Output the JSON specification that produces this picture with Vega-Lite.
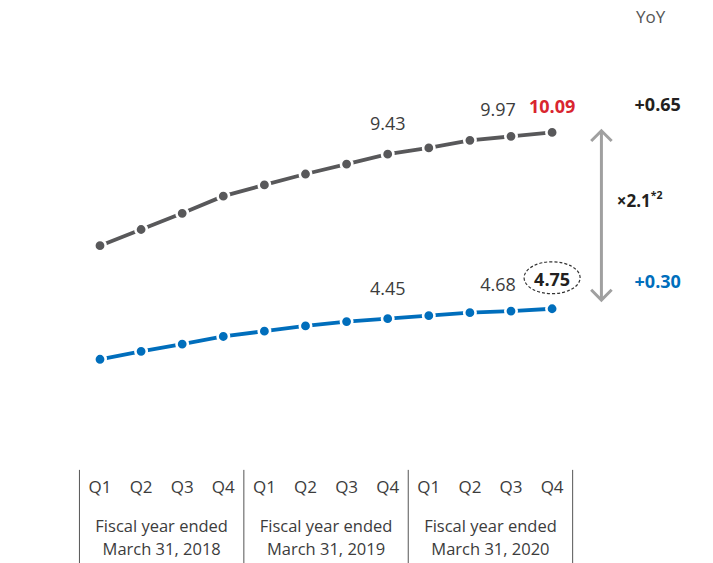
{
  "$schema": "https://vega.github.io/schema/vega-lite/v6.json",
  "width": 713,
  "height": 563,
  "autosize": "none",
  "padding": 0,
  "background": "white",
  "config": {"view": {"stroke": null}, "font": "Open Sans"},
  "datasets": {
    "series": [
      {"i": 0, "quarter": "Q1", "fy": "2018", "series": "total", "value": 6.66},
      {"i": 1, "quarter": "Q2", "fy": "2018", "series": "total", "value": 7.15},
      {"i": 2, "quarter": "Q3", "fy": "2018", "series": "total", "value": 7.64},
      {"i": 3, "quarter": "Q4", "fy": "2018", "series": "total", "value": 8.16},
      {"i": 4, "quarter": "Q1", "fy": "2019", "series": "total", "value": 8.50},
      {"i": 5, "quarter": "Q2", "fy": "2019", "series": "total", "value": 8.83},
      {"i": 6, "quarter": "Q3", "fy": "2019", "series": "total", "value": 9.13},
      {"i": 7, "quarter": "Q4", "fy": "2019", "series": "total", "value": 9.43},
      {"i": 8, "quarter": "Q1", "fy": "2020", "series": "total", "value": 9.62},
      {"i": 9, "quarter": "Q2", "fy": "2020", "series": "total", "value": 9.85},
      {"i": 10, "quarter": "Q3", "fy": "2020", "series": "total", "value": 9.97},
      {"i": 11, "quarter": "Q4", "fy": "2020", "series": "total", "value": 10.09},
      {"i": 0, "quarter": "Q1", "fy": "2018", "series": "sub", "value": 3.22},
      {"i": 1, "quarter": "Q2", "fy": "2018", "series": "sub", "value": 3.46},
      {"i": 2, "quarter": "Q3", "fy": "2018", "series": "sub", "value": 3.68},
      {"i": 3, "quarter": "Q4", "fy": "2018", "series": "sub", "value": 3.91},
      {"i": 4, "quarter": "Q1", "fy": "2019", "series": "sub", "value": 4.07},
      {"i": 5, "quarter": "Q2", "fy": "2019", "series": "sub", "value": 4.23},
      {"i": 6, "quarter": "Q3", "fy": "2019", "series": "sub", "value": 4.36},
      {"i": 7, "quarter": "Q4", "fy": "2019", "series": "sub", "value": 4.45},
      {"i": 8, "quarter": "Q1", "fy": "2020", "series": "sub", "value": 4.54},
      {"i": 9, "quarter": "Q2", "fy": "2020", "series": "sub", "value": 4.63},
      {"i": 10, "quarter": "Q3", "fy": "2020", "series": "sub", "value": 4.68},
      {"i": 11, "quarter": "Q4", "fy": "2020", "series": "sub", "value": 4.75}
    ],
    "quarters": [
      {"i": 0, "quarter": "Q1"}, {"i": 1, "quarter": "Q2"}, {"i": 2, "quarter": "Q3"}, {"i": 3, "quarter": "Q4"},
      {"i": 4, "quarter": "Q1"}, {"i": 5, "quarter": "Q2"}, {"i": 6, "quarter": "Q3"}, {"i": 7, "quarter": "Q4"},
      {"i": 8, "quarter": "Q1"}, {"i": 9, "quarter": "Q2"}, {"i": 10, "quarter": "Q3"}, {"i": 11, "quarter": "Q4"}
    ],
    "years": [
      {"center": 1.5, "label": "Fiscal year ended\nMarch 31, 2018"},
      {"center": 5.5, "label": "Fiscal year ended\nMarch 31, 2019"},
      {"center": 9.5, "label": "Fiscal year ended\nMarch 31, 2020"}
    ],
    "separators": [{"b": -0.5}, {"b": 3.5}, {"b": 7.5}, {"b": 11.5}],
    "summary": [{"total": 10.09, "sub": 4.75, "yoyTotal": "+0.65", "yoySub": "+0.30", "ratio": "×2.1", "note": "*2"}]
  },
  "layer": [
    {
      "data": {"name": "series"},
      "mark": {"type": "line", "strokeWidth": 3.8},
      "encoding": {
        "x": {"field": "i", "type": "quantitative", "scale": {"domain": [-2.433, 14.915], "nice": false, "zero": false}, "axis": null},
        "y": {"field": "value", "type": "quantitative", "scale": {"domain": [-2.95, 14.1], "nice": false, "zero": false}, "axis": null},
        "detail": {"field": "series"},
        "color": {"field": "series", "type": "nominal", "scale": {"domain": ["total", "sub"], "range": ["#58585a", "#006ebc"]}, "legend": null}
      }
    },
    {
      "data": {"name": "series"},
      "mark": {"type": "point", "filled": true, "size": 130, "stroke": "white", "strokeWidth": 2.6, "opacity": 1},
      "encoding": {
        "x": {"field": "i", "type": "quantitative"},
        "y": {"field": "value", "type": "quantitative"},
        "fill": {"field": "series", "type": "nominal", "scale": {"domain": ["total", "sub"], "range": ["#58585a", "#006ebc"]}, "legend": null}
      }
    },
    {
      "data": {"name": "series"},
      "transform": [{"filter": "datum.i == 7"}],
      "mark": {"type": "text", "fontSize": 18, "color": "#3c3c3c", "baseline": "alphabetic", "dy": -24},
      "encoding": {
        "x": {"field": "i", "type": "quantitative"},
        "y": {"field": "value", "type": "quantitative"},
        "text": {"field": "value", "type": "quantitative", "format": ".2f"}
      }
    },
    {
      "data": {"name": "series"},
      "transform": [{"filter": "datum.i == 10"}],
      "mark": {"type": "text", "fontSize": 18, "color": "#3c3c3c", "baseline": "alphabetic", "dx": -13, "dy": -20},
      "encoding": {
        "x": {"field": "i", "type": "quantitative"},
        "y": {"field": "value", "type": "quantitative"},
        "text": {"field": "value", "type": "quantitative", "format": ".2f"}
      }
    },
    {
      "data": {"name": "series"},
      "transform": [{"filter": "datum.i == 11 && datum.series == 'total'"}],
      "mark": {"type": "text", "fontSize": 18, "fontWeight": "bold", "color": "#d9252f", "baseline": "alphabetic", "dy": -19},
      "encoding": {
        "x": {"field": "i", "type": "quantitative"},
        "y": {"field": "value", "type": "quantitative"},
        "text": {"field": "value", "type": "quantitative", "format": ".2f"}
      }
    },
    {
      "data": {"name": "series"},
      "transform": [{"filter": "datum.i == 11 && datum.series == 'sub'"}],
      "mark": {"type": "text", "fontSize": 18, "fontWeight": "bold", "color": "#231f20", "baseline": "alphabetic", "dy": -23},
      "encoding": {
        "x": {"field": "i", "type": "quantitative"},
        "y": {"field": "value", "type": "quantitative"},
        "text": {"field": "value", "type": "quantitative", "format": ".2f"}
      }
    },
    {
      "data": {"name": "series"},
      "transform": [{"filter": "datum.i == 11 && datum.series == 'sub'"}],
      "mark": {"type": "point", "filled": false, "shape": "M -1 0 A 1 0.57 0 1 0 1 0 A 1 0.57 0 1 0 -1 0", "size": 3136, "stroke": "#333333", "strokeWidth": 1.2, "strokeDash": [3, 2], "yOffset": -31, "opacity": 1},
      "encoding": {
        "x": {"field": "i", "type": "quantitative"},
        "y": {"field": "value", "type": "quantitative"}
      }
    },
    {
      "data": {"name": "quarters"},
      "mark": {"type": "text", "fontSize": 17, "color": "#3c3c3c", "baseline": "middle"},
      "encoding": {
        "x": {"field": "i", "type": "quantitative"},
        "y": {"datum": -0.68},
        "text": {"field": "quarter"}
      }
    },
    {
      "data": {"name": "years"},
      "mark": {"type": "text", "fontSize": 16.5, "color": "#3c3c3c", "baseline": "middle", "lineBreak": "\n", "lineHeight": 23},
      "encoding": {
        "x": {"field": "center", "type": "quantitative"},
        "y": {"datum": -1.86},
        "text": {"field": "label"}
      }
    },
    {
      "data": {"name": "separators"},
      "mark": {"type": "rule", "color": "#555555", "strokeWidth": 1},
      "encoding": {
        "x": {"field": "b", "type": "quantitative"},
        "y": {"datum": -0.13},
        "y2": {"datum": -2.95}
      }
    },
    {
      "data": {"name": "summary"},
      "mark": {"type": "rule", "color": "#a0a0a0", "strokeWidth": 3, "yOffset": -1.6, "y2Offset": -8.7},
      "encoding": {
        "x": {"datum": 12.2},
        "y": {"field": "total", "type": "quantitative"},
        "y2": {"field": "sub"}
      }
    },
    {
      "data": {"name": "summary"},
      "mark": {"type": "point", "filled": false, "shape": "M -1 1 L 0 0 L 1 1", "size": 420, "stroke": "#a0a0a0", "strokeWidth": 3, "yOffset": -1.6, "opacity": 1},
      "encoding": {
        "x": {"datum": 12.2},
        "y": {"field": "total", "type": "quantitative"}
      }
    },
    {
      "data": {"name": "summary"},
      "mark": {"type": "point", "filled": false, "shape": "M -1 -1 L 0 0 L 1 -1", "size": 420, "stroke": "#a0a0a0", "strokeWidth": 3, "yOffset": -8.7, "opacity": 1},
      "encoding": {
        "x": {"datum": 12.2},
        "y": {"field": "sub", "type": "quantitative"}
      }
    },
    {
      "data": {"name": "summary"},
      "mark": {"type": "text", "fontSize": 18, "fontWeight": "bold", "color": "#231f20", "baseline": "middle", "dy": -26},
      "encoding": {
        "x": {"datum": 13.57},
        "y": {"field": "total", "type": "quantitative"},
        "text": {"field": "yoyTotal"}
      }
    },
    {
      "data": {"name": "summary"},
      "mark": {"type": "text", "fontSize": 18, "fontWeight": "bold", "color": "#006ebc", "baseline": "middle", "dy": -26},
      "encoding": {
        "x": {"datum": 13.57},
        "y": {"field": "sub", "type": "quantitative"},
        "text": {"field": "yoySub"}
      }
    },
    {
      "data": {"name": "summary"},
      "mark": {"type": "text", "fontSize": 17, "color": "#555555", "baseline": "middle"},
      "encoding": {
        "x": {"datum": 13.4},
        "y": {"datum": 13.55},
        "text": {"value": "YoY"}
      }
    },
    {
      "data": {"name": "summary"},
      "mark": {"type": "text", "fontSize": 17, "fontWeight": "bold", "color": "#231f20", "baseline": "middle", "align": "right", "dx": -4},
      "encoding": {
        "x": {"datum": 13.5},
        "y": {"datum": 7.99},
        "text": {"field": "ratio"}
      }
    },
    {
      "data": {"name": "summary"},
      "mark": {"type": "text", "fontSize": 10.5, "fontWeight": "bold", "color": "#231f20", "baseline": "middle", "align": "left", "dx": -4, "dy": -6},
      "encoding": {
        "x": {"datum": 13.5},
        "y": {"datum": 7.99},
        "text": {"field": "note"}
      }
    }
  ]
}
